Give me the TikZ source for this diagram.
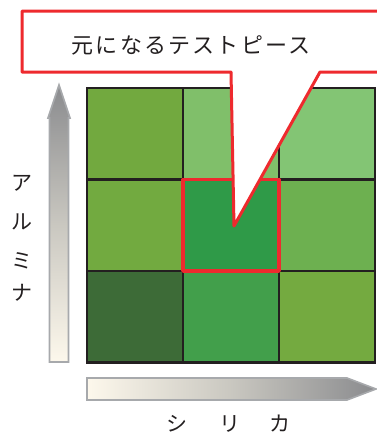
\documentclass[tikz,border=0pt]{standalone}
\usepackage{fontspec}
\newfontfamily\cjk{Noto Sans CJK JP}
\newfontfamily\cjkwide{Noto Sans CJK JP}[LetterSpace=10]
\definecolor{ink}{HTML}{231F20}
\definecolor{redline}{HTML}{EE2A2E}
\definecolor{cA}{HTML}{72A93F}
\definecolor{cB}{HTML}{80BF6A}
\definecolor{cC}{HTML}{83C574}
\definecolor{cD}{HTML}{72AA40}
\definecolor{cE}{HTML}{2F9A48}
\definecolor{cF}{HTML}{6DB050}
\definecolor{cG}{HTML}{3D6B37}
\definecolor{cH}{HTML}{429F4B}
\definecolor{cI}{HTML}{74AA40}
\definecolor{arrgray}{HTML}{8A8B8E}
\definecolor{arrmid}{HTML}{C9C7C0}
\definecolor{cream}{HTML}{FDF8EC}
\definecolor{arrborder}{HTML}{A7A9AC}
\begin{document}
\begin{tikzpicture}[x=1pt,y=-1pt,
  cell/.style={draw=ink,line width=2.4pt,minimum width=96pt,minimum height=91.5pt,inner sep=0pt,outer sep=0pt},
  lbl/.style={text=ink,font=\cjk\fontsize{21}{21}\selectfont,inner sep=0pt},
  arrowbody/.style={draw=arrborder,line width=1.6pt,line join=miter}]
\useasboundingbox (0,0) rectangle (377,439);
% grid cells
\node[cell,fill=cA] (c00) at (135,133.75) {};
\node[cell,fill=cB] (c01) at (231,133.75) {};
\node[cell,fill=cC] (c02) at (327,133.75) {};
\node[cell,fill=cD] (c10) at (135,225.25) {};
\node[cell,fill=cE] (c11) at (231,225.25) {};
\node[cell,fill=cF] (c12) at (327,225.25) {};
\node[cell,fill=cG] (c20) at (135,316.75) {};
\node[cell,fill=cH] (c21) at (231,316.75) {};
\node[cell,fill=cI] (c22) at (327,316.75) {};
% highlight
\draw[redline,line width=3.5pt,line join=round] (c11.north west) rectangle (c11.south east);
% callout
\coordinate (tip) at (234,226);
\filldraw[fill=white,draw=redline,line width=3pt,line join=round]
  (231,72) -- (22,72) -- (22,11) -- (385,11) -- (385,72) -- (320,72) -- (tip) -- cycle;
\node[text=ink,font=\cjkwide\fontsize{22}{22}\selectfont,inner sep=0pt] (title) at (191,45) {元になるテストピース};
% vertical arrow
\shade[top color=arrgray,bottom color=cream,middle color=arrmid,arrowbody]
  (49.5,362) -- (68.5,362) -- (68.5,118) -- (70,118) -- (59,85) -- (48,118) -- (49.5,118) -- cycle;
% horizontal arrow
\shade[left color=cream,right color=arrgray,middle color=arrmid,arrowbody]
  (87,378) -- (347,378) -- (376,389) -- (347,400) -- (87,400) -- cycle;
% axis labels
\node[lbl] (a1) at (22,183) {ア};
\node[lbl] (a2) at (22,222) {ル};
\node[lbl] (a3) at (22,261) {ミ};
\node[lbl] (a4) at (22,293) {ナ};
\node[lbl] (s1) at (177,424) {シ};
\node[lbl] (s2) at (230,424) {リ};
\node[lbl] (s3) at (280,424) {カ};
\end{tikzpicture}
\end{document}
